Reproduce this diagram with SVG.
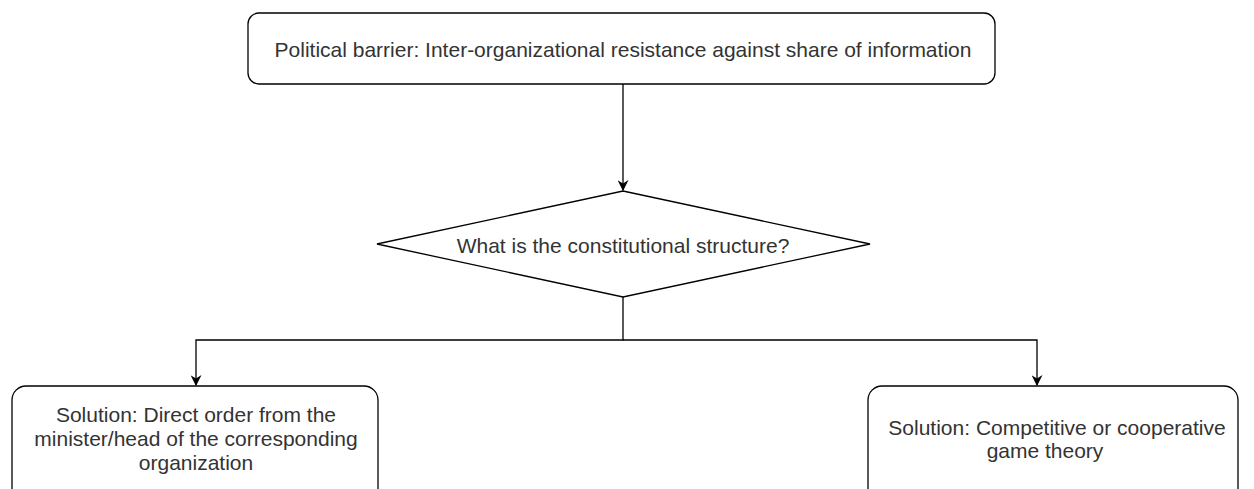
<svg xmlns="http://www.w3.org/2000/svg" width="1254" height="489" viewBox="0 0 1254 489">
<style>
.box{fill:#fff;stroke:#000;stroke-width:1.3}
.t{font-family:"Liberation Sans",Arial,sans-serif;font-size:21px;fill:#333;text-anchor:middle}
.c{fill:none;stroke:#000;stroke-width:1.3}
</style>
<defs>
<marker id="arr" viewBox="0 0 10 10" refX="9" refY="5" markerWidth="11" markerHeight="11" markerUnits="userSpaceOnUse" orient="auto">
<path d="M0,0 L10,5 L0,10 L3,5 Z" fill="#000"/>
</marker>
</defs>
<rect width="1254" height="489" fill="#fff"/>
<g id="connectors">
<path class="c" d="M623,84 V190" marker-end="url(#arr)"/>
<path class="c" d="M623,297 V340 H196 V385" marker-end="url(#arr)"/>
<path class="c" d="M623,340 H1037 V385" marker-end="url(#arr)"/>
</g>
<g id="top">
<rect class="box" x="248" y="13" width="747" height="71" rx="11"/>
<text class="t" x="623" y="57">Political barrier: Inter-organizational resistance against share of information</text>
</g>
<g id="decision">
<polygon class="box" points="623,191 870,244 623,297 377,244"/>
<text class="t" x="623" y="253">What is the constitutional structure?</text>
</g>
<g id="left">
<rect class="box" x="12" y="386" width="366" height="120" rx="14"/>
<text class="t" x="196" y="422">Solution: Direct order from the</text>
<text class="t" x="196" y="446">minister/head of the corresponding</text>
<text class="t" x="196" y="470">organization</text>
</g>
<g id="right">
<rect class="box" x="868" y="386" width="370" height="120" rx="14"/>
<text class="t" x="1057" y="435">Solution: Competitive or cooperative</text>
<text class="t" x="1045" y="458">game theory</text>
</g>
</svg>
